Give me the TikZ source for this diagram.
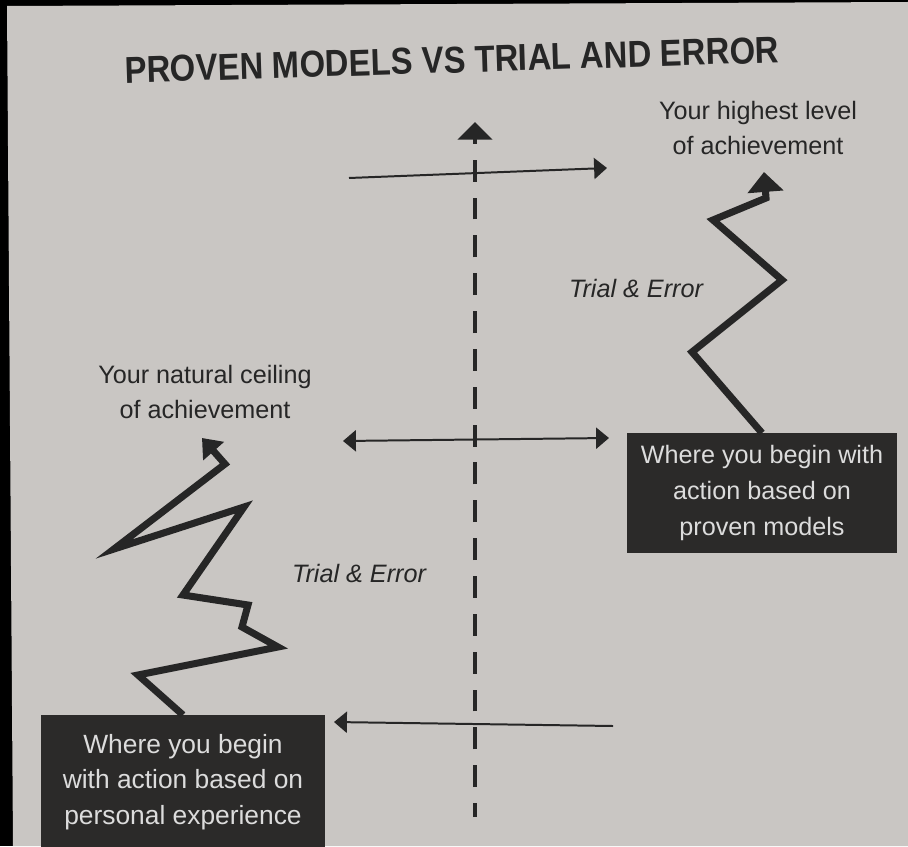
\documentclass[tikz,border=0pt]{standalone}
\usepackage{graphicx}
\usepackage{fontspec}
\setmainfont{Liberation Sans}
\usepackage{tikz}
\usetikzlibrary{arrows.meta}
\definecolor{paper}{HTML}{C9C6C3}
\definecolor{ink}{HTML}{262626}
\definecolor{boxfill}{HTML}{2B2A29}
\definecolor{boxtext}{HTML}{DCDCDC}
\tikzset{
  head/.style={text=ink, font=\bfseries\fontsize{32}{32}\selectfont, rotate=1.8},
  lab/.style={text=ink, align=center, font=\fontsize{21.5}{30}\selectfont},
  trial/.style={text=ink, font=\itshape\fontsize{21.5}{30}\selectfont},
  startbox/.style={fill=boxfill, text=boxtext, align=center, inner sep=0pt},
  axis/.style={-{Triangle[length=15pt,width=29pt]}, line width=4.2pt, draw=ink,
    dash pattern=on 18.7pt off 13.6pt, dash phase=6.8pt},
  lvl/.style={line width=1.7pt, draw=ink, >={Triangle[length=11pt,width=18pt]}},
  zig/.style={line width=6pt, draw=ink, miter limit=20,
    -{Triangle[length=17pt,width=30pt]}}
}

\begin{document}
\begin{tikzpicture}[x=0.03cm,y=-0.03cm]
  \useasboundingbox (0,0) rectangle (908,846);
  \fill[black] (0,0) rectangle (908,846);
  \fill[paper] (7,6) -- (908,2) -- (908,846) -- (13,846) -- cycle;

  \node[head] (title) at (452,60) {\scalebox{0.875}[1]{PROVEN MODELS VS TRIAL AND ERROR}};

  \coordinate (axB) at (475,817);
  \coordinate (axT) at (475,122);
  \draw[axis] (axB) -- (axT);

  \coordinate (topL) at (349,178);
  \coordinate (topR) at (607,168);
  \coordinate (midL) at (343,441);
  \coordinate (midR) at (609,438);
  \coordinate (botL) at (334,722);
  \coordinate (botR) at (613,726);
  \draw[lvl,->] (topL) -- (topR);
  \draw[lvl,<->] (midL) -- (midR);
  \draw[lvl,<-] (botL) -- (botR);

  \node[lab] (hilvl) at (758,128) {Your highest level\\of achievement};
  \node[lab] (ceil) at (205,392) {Your natural ceiling\\of achievement};
  \node[trial] (trialR) at (636,288) {Trial \& Error};
  \node[trial] (trialL) at (359,573) {Trial \& Error};

  \node[startbox, minimum width=230pt, minimum height=102pt,
    font=\fontsize{21.5}{30.5}\selectfont] (rbox) at (762,493)
    {Where you begin with\\action based on\\proven models};
  \node[startbox, minimum width=242pt, minimum height=114pt,
    font=\fontsize{22.5}{30.5}\selectfont] (lbox) at (183,782)
    {Where you begin\\with action based on\\personal experience};

  \coordinate (rtip) at (764,172);
  \draw[zig] (rbox.north) -- (692,352) -- (782,280) -- (713,220) -- (766,198) -- (rtip);

  \coordinate (ltip) at (202,438);
  \draw[zig, -{Triangle[length=15pt,width=23pt]}] (lbox.north) -- (138,675) -- (278,647)
    -- (242,627) -- (248,605) -- (183,595) -- (244,507) -- (114,549) -- (225,464) -- (ltip);
\end{tikzpicture}
\end{document}
